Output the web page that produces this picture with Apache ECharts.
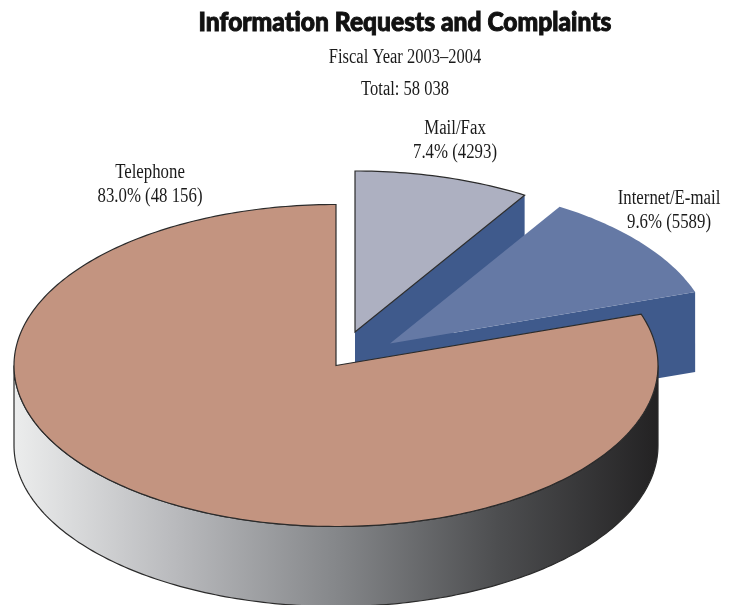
<!DOCTYPE html>
<html><head><meta charset="utf-8">
<style>html,body{margin:0;padding:0;background:#fff}#c{width:731px;height:605px}</style>
<script src="https://cdn.jsdelivr.net/npm/echarts@6/dist/echarts.min.js"></script>
</head><body><div id="c"></div>
<script>
// Data, in drawing order (clockwise from 12 o'clock)
const categories = ['Mail/Fax', 'Internet/E-mail', 'Telephone'];
const requests = [4293, 5589, 48156];
const percents = ['7.4%', '9.6%', '83.0%'];
const counts = ['4293', '5589', '48 156'];
const titleText = 'Information Requests and Complaints';
const subtitleLines = ['Fiscal Year 2003–2004', 'Total: 58 038'];

// Presentation
const topColors = ['#adb0c1', '#6579a5', '#c39480'];
const edgeColors = ['#2b2b2b', null, '#2b2b2b'];
const sideColor = '#3f5a8c';
const centers = [[355, 332], [390, 343.5], [336, 365.5]];
const labelPos = [[455, 117], [669, 187], [150, 161]];
const RX = 322, RY = 161, DEPTH = 80, SKEW = 11.5;

const total = requests.reduce((a, b) => a + b, 0);
const rad = d => d * Math.PI / 180;
// apparent angle on the tilted disc for a true angle
const warp = t => t + SKEW * Math.sin(rad(t));
let cum = 0;
const spans = requests.map(v => { const a = cum; cum += v / total * 360; return [warp(a), warp(cum)]; });

function rim(c, a, dy) { return [c[0] + RX * Math.sin(rad(a)), c[1] - RY * Math.cos(rad(a)) + (dy || 0)]; }
function arc(c, a0, a1, dy) {
  const n = Math.max(2, Math.ceil(Math.abs(a1 - a0)));
  const p = [];
  for (let i = 0; i <= n; i++) p.push(rim(c, a0 + (a1 - a0) * i / n, dy));
  return p;
}
function renderItem(params, api) {
  const i = params.dataIndex;
  const c = centers[i], [a0, a1] = spans[i];
  const children = [];
  const edge = edgeColors[i];
  // cut faces facing the viewer
  [[a0, Math.sin(rad(a0)) < -1e-6], [a1, Math.sin(rad(a1)) > 1e-6]].forEach(([a, vis]) => {
    if (!vis) return;
    const r = rim(c, a);
    children.push({ type: 'polygon', shape: { points: [c, r, [r[0], r[1] + DEPTH], [c[0], c[1] + DEPTH]] },
      style: { fill: sideColor } });
  });
  // outer wall, front half only
  const f0 = Math.max(a0, 90), f1 = Math.min(a1, 270);
  if (f1 > f0) {
    const pts = arc(c, f0, f1, 0).concat(arc(c, f1, f0, DEPTH));
    children.push({ type: 'polygon', shape: { points: pts },
      style: { fill: new echarts.graphic.LinearGradient(0, 0, 1, 0, [
        { offset: 0, color: '#eceded' }, { offset: 0.25, color: '#b9babd' }, { offset: 0.5, color: '#85878a' },
        { offset: 0.75, color: '#4d4e50' }, { offset: 1, color: '#232223' }]),
        stroke: edge, lineWidth: 1.2 } });
  }
  // top face
  children.push({ type: 'polygon', shape: { points: [c].concat(arc(c, a0, a1)) },
    style: { fill: topColors[i], stroke: edge || 'none', lineWidth: 1.2, lineJoin: 'miter' } });
  // label
  children.push({ type: 'text', x: labelPos[i][0], y: labelPos[i][1], scaleX: 0.84, z2: 10,
    style: { text: categories[i] + '\n' + percents[i] + ' (' + counts[i] + ')', align: 'center', verticalAlign: 'top',
      font: '20px "Liberation Serif"', lineHeight: 24, fill: '#1a1a1a' } });
  return { type: 'group', children };
}
const chart = echarts.init(document.getElementById('c'), null, { renderer: 'canvas' });
chart.setOption({
  animation: false,
  graphic: [
    { type: 'text', x: 405, y: 9, scaleX: 0.91, style: { text: titleText, align: 'center', font: '900 27px "Lato"', fill: '#111', stroke: '#111', lineWidth: 1 } },
    { type: 'text', x: 405, y: 48, scaleX: 0.825, style: { text: subtitleLines[0], align: 'center', font: '20px "Liberation Serif"', fill: '#1a1a1a' } },
    { type: 'text', x: 405, y: 80, scaleX: 0.825, style: { text: subtitleLines[1], align: 'center', font: '20px "Liberation Serif"', fill: '#1a1a1a' } }
  ],
  series: [{
    type: 'custom', coordinateSystem: 'none', silent: true, renderItem,
    encode: { value: 1 },
    data: categories.map((n, i) => [i, requests[i]])
  }]
});
</script></body></html>
